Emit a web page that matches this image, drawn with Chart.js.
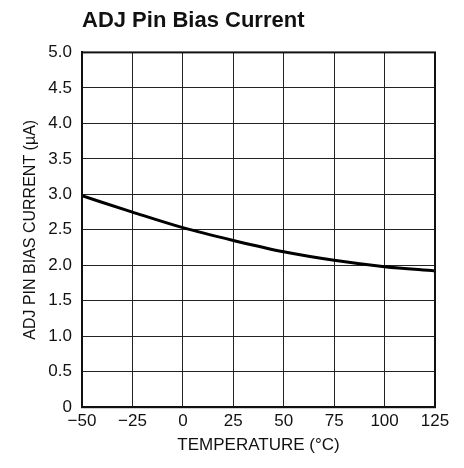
<!DOCTYPE html>
<html>
<head>
<meta charset="utf-8">
<script src="https://cdn.jsdelivr.net/npm/chart.js@4.4.0/dist/chart.umd.min.js"></script>
<style>
  html, body { margin: 0; padding: 0; background: #fff; }
  #wrap { width: 464px; height: 468px; }
</style>
</head>
<body>
<div id="wrap"><canvas id="chart_div" width="464" height="468"></canvas></div>
<script>
// temperature in degC
var temps = [-50, -25, 0, 25, 50, 75, 100, 125];
// bias current in uA
var biasCurrent = [2.98, 2.75, 2.53, 2.35, 2.19, 2.07, 1.98, 1.92];
var xTicks = [-50, -25, 0, 25, 50, 75, 100, 125];
var yTicks = [0, 0.5, 1.0, 1.5, 2.0, 2.5, 3.0, 3.5, 4.0, 4.5, 5.0];

var fontFam = "'Liberation Sans Narrow', 'Liberation Sans', Arial, sans-serif";

var points = [];
for (var i = 0; i < temps.length; i++) {
    points.push({x: temps[i], y: biasCurrent[i]});
}

// box round the plot area
var frame = {
    id: 'frame',
    afterDraw: function (chart) {
        var a = chart.chartArea;
        var ctx = chart.ctx;
        ctx.save();
        ctx.strokeStyle = '#111';
        ctx.lineWidth = 2;
        ctx.strokeRect(a.left, a.top, a.right - a.left, a.bottom - a.top);
        ctx.restore();
    }
};

var option = {
    responsive: false,
    animation: false,
    layout: {padding: {left: 21, right: 29, top: 0, bottom: 0}},
    plugins: {
        legend: {display: false},
        tooltip: {enabled: false},
        title: {
            display: true,
            text: 'ADJ Pin Bias Current',
            align: 'start',
            fullSize: false,
            color: '#111',
            font: {family: fontFam, size: 22, weight: 'bold'},
            padding: {top: 8, bottom: 18}
        }
    },
    scales: {
        x: {
            type: 'linear',
            min: -50, max: 125,
            afterBuildTicks: function (s) { s.ticks = xTicks.map(function (v) { return {value: v}; }); },
            ticks: {
                color: '#111',
                font: {family: fontFam, size: 17},
                padding: 4,
                callback: function (v) { return String(v).replace('-', '\u2212'); }
            },
            grid: {color: '#222', lineWidth: 1, drawTicks: false},
            border: {color: '#111', width: 2},
            title: {
                display: true, text: 'TEMPERATURE (°C)', color: '#111',
                font: {family: fontFam, size: 17}, padding: {top: 0, bottom: 12}
            }
        },
        y: {
            min: 0, max: 5,
            afterBuildTicks: function (s) { s.ticks = yTicks.map(function (v) { return {value: v}; }); },
            afterFit: function (s) { s.width = 61; },
            ticks: {
                color: '#111',
                font: {family: fontFam, size: 17},
                padding: 10,
                callback: function (v) { return v === 0 ? '0' : v.toFixed(1); }
            },
            grid: {color: '#222', lineWidth: 1, drawTicks: false},
            border: {color: '#111', width: 2},
            title: {
                display: true, text: 'ADJ PIN BIAS CURRENT (µA)', color: '#111',
                font: {family: fontFam, size: 16}, padding: {top: 0, bottom: 4}
            }
        }
    }
};

var chart = new Chart(document.getElementById('chart_div'), {
    type: 'line',
    data: {
        datasets: [{
            data: points,
            borderColor: '#000',
            borderWidth: 3,
            pointRadius: 0,
            fill: false,
            cubicInterpolationMode: 'monotone'
        }]
    },
    options: option,
    plugins: [frame]
});
</script>
</body>
</html>
